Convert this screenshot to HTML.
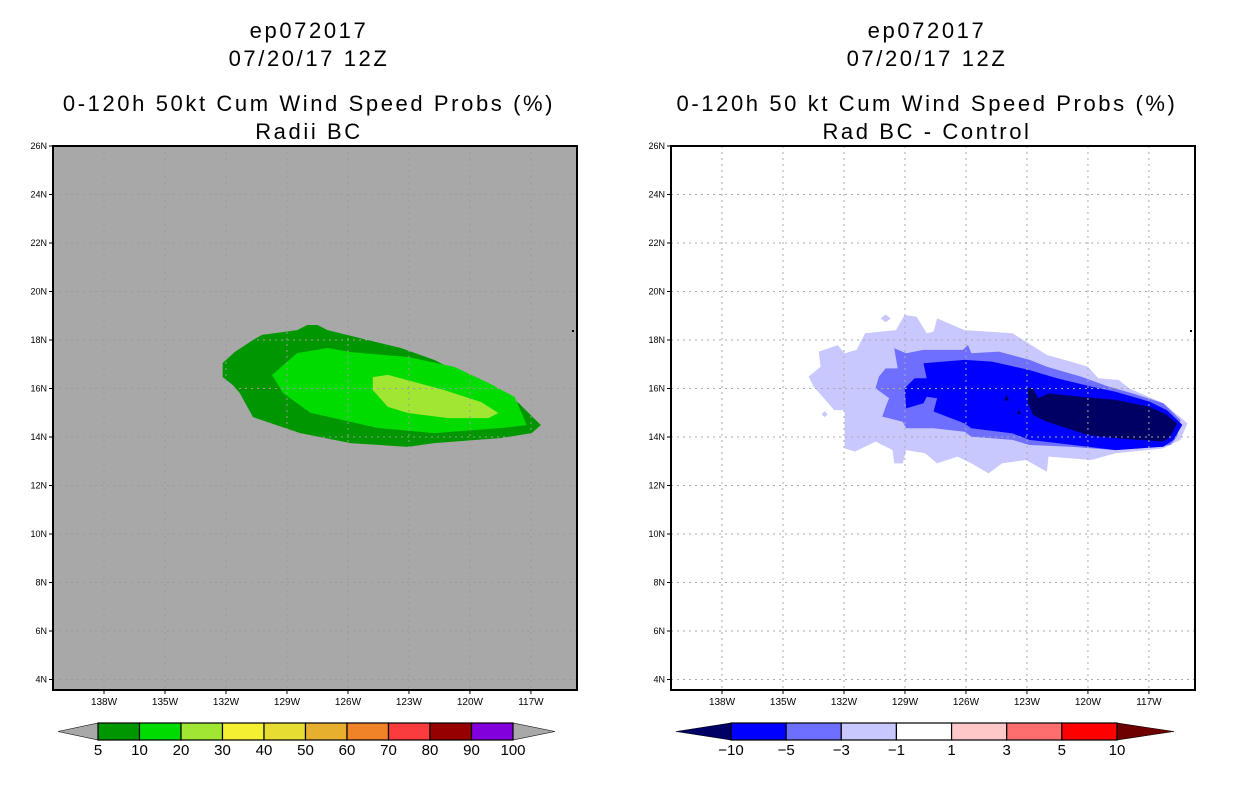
<!DOCTYPE html>
<html><head><meta charset="utf-8">
<style>
html,body{margin:0;padding:0;background:#fff;}
svg{display:block;font-family:"Liberation Sans",sans-serif;}
</style></head>
<body>
<svg id="fig" width="1236" height="800" viewBox="0 0 1236 800" xmlns="http://www.w3.org/2000/svg">
<g id="left"></g>
<g id="right"></g>
</svg>
<script>
// ---- axis data ----
const lonTicks = [138,135,132,129,126,123,120,117];
const latTicks = [26,24,22,20,18,16,14,12,10,8,6,4];
// ---- left panel contours (lon W, lat N) ----
const probDark = [[132.16,17.05],[131.56,17.51],[130.67,18.0],[130.23,18.21],[128.5,18.41],[128.0,18.62],[127.5,18.62],[127.0,18.41],[125.03,18.0],[123.4,17.67],[121.76,17.18],[120.57,16.68],[119.93,16.47],[118.79,16.06],[117.6,15.4],[116.51,14.49],[116.96,14.16],[118.45,13.96],[121.76,13.75],[123.05,13.59],[125.87,13.75],[128.35,14.16],[130.67,14.82],[131.32,15.81],[131.66,16.14],[132.16,16.47]];
const probMid = [[129.73,16.56],[128.5,17.46],[127.0,17.67],[125.87,17.5],[123.05,17.3],[120.77,16.89],[119.09,16.23],[117.8,15.65],[117.21,14.49],[118.45,14.37],[121.76,14.16],[124.53,14.37],[127.85,15.0],[129.19,15.81]];
const probLight = [[124.78,16.47],[124.04,16.56],[121.27,15.94],[119.44,15.44],[118.6,14.99],[119.09,14.78],[121.07,14.78],[123.05,14.99],[124.04,15.24],[124.78,15.94]];
// ---- right panel difference contours ----
const diffM1 = [[133.74,16.49],[133.15,16.90],[133.24,17.52],[132.31,17.79],[131.97,17.45],[131.38,17.59],[130.96,18.28],[129.44,18.41],[129.02,19.03],[128.43,18.96],[127.93,18.28],[127.59,18.34],[127.42,18.89],[126.07,18.41],[123.71,18.28],[122.02,17.38],[120.84,17.11],[120.0,16.90],[119.49,16.42],[118.48,16.35],[117.98,16.01],[116.29,15.39],[115.11,14.56],[115.45,13.88],[116.29,13.53],[118.65,13.33],[119.83,13.05],[121.94,13.19],[122.02,12.57],[123.04,13.05],[124.22,12.91],[124.89,12.50],[125.73,12.91],[126.41,13.19],[127.42,12.91],[128.01,13.33],[128.94,13.46],[129.11,12.91],[129.53,12.91],[129.61,13.46],[130.45,13.81],[131.47,13.40],[131.97,13.53],[131.97,15.11],[132.48,15.11],[133.49,16.08]];
const diffM1IslandA = [[129.95,19.05],[129.7,18.89],[129.95,18.73],[130.2,18.89]];
const diffM1IslandB = [[132.95,15.06],[132.8,14.94],[132.95,14.82],[133.1,14.94]];
const diffM3 = [[130.45,16.01],[130.28,16.49],[129.95,16.83],[129.36,16.83],[129.53,17.66],[128.94,17.45],[128.09,17.59],[126.15,17.59],[125.90,17.79],[125.73,17.45],[124.38,17.52],[122.87,17.18],[122.02,16.90],[120.34,16.49],[118.99,16.08],[117.81,15.80],[116.29,15.39],[115.45,14.70],[115.62,14.01],[115.95,13.67],[118.65,13.46],[120.84,13.60],[122.87,13.67],[123.71,13.88],[125.73,14.01],[126.07,14.22],[127.59,14.36],[128.94,14.36],[129.11,14.63],[130.12,14.84],[129.95,15.25],[129.78,15.60]];
const diffM5 = [[129.02,16.01],[128.52,16.42],[127.93,16.42],[128.09,17.04],[126.07,17.18],[124.72,17.11],[122.87,16.76],[121.52,16.42],[119.83,16.08],[118.65,15.87],[116.97,15.46],[116.12,15.11],[115.36,14.50],[115.79,13.88],[116.29,13.60],[118.65,13.46],[120.0,13.60],[122.87,13.88],[123.71,14.15],[125.73,14.36],[126.07,14.56],[127.59,15.05],[127.42,15.60],[127.93,15.66],[128.09,15.39],[128.94,15.18]];
const diffM10 = [[122.95,16.01],[122.70,16.01],[122.45,15.60],[121.94,15.80],[120.34,15.66],[118.65,15.53],[116.97,15.25],[116.12,14.91],[115.62,14.56],[115.95,14.01],[116.29,13.81],[118.65,13.95],[120.0,14.08],[122.02,14.63],[122.70,14.91],[122.95,15.39]];
const diffM10SpeckA = [[124.0,15.75],[123.88,15.5],[124.12,15.5]];
const diffM10SpeckB = [[123.4,15.12],[123.3,14.95],[123.5,14.95]];
// ---- colorbars ----
const probLevels = ["5","10","20","30","40","50","60","70","80","90","100"];
const probColors = ["#009600","#00dc00","#a0e632","#f5f032","#e6dc32","#e6af2d","#f08228","#fa3c3c","#960000","#8200dc"];
const diffLevels = ["\u221210","\u22125","\u22123","\u22121","1","3","5","10"];
const diffColors = ["#0000ff","#6e6eff","#c8c8ff","#ffffff","#ffc8c8","#ff6e6e","#ff0000"];
const diffEnds = ["#000064","#6e0000"];

const NS="http://www.w3.org/2000/svg";
function mk(parent,tag,attrs,text){const e=document.createElementNS(NS,tag);for(const k in attrs)e.setAttribute(k,attrs[k]);if(text!==undefined)e.textContent=text;parent.appendChild(e);return e;}

const PT=146, PB=690, PW=524;
function panel(g,x0,bg,titles,cfg){
  const xs=lon=>x0+51+(138-lon)*20.33;
  const ys=lat=>PT+(26-lat)*24.25;
  const cx=x0+256;
  const tY=[38,66,111,139];
  titles.forEach((t,i)=>{
    const e=mk(g,'text',{x:cx,y:tY[i],'text-anchor':'middle','font-size':'22','fill':'#000','letter-spacing':'2.6'},t);
    
    
  });
  const clipId='clip'+x0;
  const cp=mk(g,'clipPath',{id:clipId});mk(cp,'rect',{x:x0,y:PT,width:PW,height:PB-PT});
  const bgR=mk(g,'rect',{x:x0,y:PT,width:PW,height:PB-PT,fill:bg});
  
  
  const cg=mk(g,'g',{'clip-path':'url(#'+clipId+')'});
  cfg.polys.forEach(p=>{
    const pts=p.data.map(d=>xs(d[0]).toFixed(1)+','+ys(d[1]).toFixed(1)).join(' ');
    const e=mk(cg,'polygon',{points:pts,fill:p.color});
    
    
  });
  lonTicks.forEach(l=>{
    const e=mk(cg,'line',{x1:xs(l),x2:xs(l),y1:PT,y2:PB,stroke:cfg.grid,'stroke-width':1,'stroke-dasharray':'2,4'});
    
    
  });
  latTicks.forEach(l=>{
    const e=mk(cg,'line',{x1:x0,x2:x0+PW,y1:ys(l),y2:ys(l),stroke:cfg.grid,'stroke-width':1,'stroke-dasharray':'2,4'});
    
    
  });
  mk(cg,'rect',{x:x0+519,y:330,width:2,height:2,fill:'#000'});
  const fr=mk(g,'rect',{x:x0,y:PT,width:PW,height:PB-PT,fill:'none',stroke:'#000','stroke-width':2});
  
  
  latTicks.forEach(l=>{
    mk(g,'line',{x1:x0-4,x2:x0,y1:ys(l),y2:ys(l),stroke:'#000'});
    const e=mk(g,'text',{x:x0-6,y:ys(l)+3,'text-anchor':'end','font-size':'9'},l+'N');
    
    
  });
  lonTicks.forEach(l=>{
    mk(g,'line',{x1:xs(l),x2:xs(l),y1:PB,y2:PB+4,stroke:'#000'});
    const e=mk(g,'text',{x:xs(l),y:PB+15,'text-anchor':'middle','font-size':'10'},l+'W');
    
    
  });
  const cb=cfg.cb; const y1=723,y2=740,ym=731.5;
  const n=cb.colors.length; const bw=(cb.b1-cb.b0)/n;
  const tl=mk(g,'polygon',{points:`${cb.t0},${ym} ${cb.b0},${y1} ${cb.b0},${y2}`,fill:cb.ends[0],stroke:'#000','stroke-width':0.6});
  
  
  const tr=mk(g,'polygon',{points:`${cb.t1},${ym} ${cb.b1},${y1} ${cb.b1},${y2}`,fill:cb.ends[1],stroke:'#000','stroke-width':0.6});
  
  
  cb.colors.forEach((c,i)=>{
    const e=mk(g,'rect',{x:cb.b0+i*bw,y:y1,width:bw,height:y2-y1,fill:c,stroke:'#000','stroke-width':1.2});
    
    
  });
  cb.levels.forEach((t,i)=>{
    const e=mk(g,'text',{x:cb.b0+i*bw,y:755,'text-anchor':'middle','font-size':'15'},t);
    
    
  });
}
panel(document.getElementById('left'),53,'#a8a8a8',["ep072017","07/20/17 12Z","0-120h 50kt Cum Wind Speed Probs (%)","Radii BC"],{
  grid:'#9c9c9c',
  polys:[{data:probDark,color:probColors[0],name:'prob-5-10'},{data:probMid,color:probColors[1],name:'prob-10-20'},{data:probLight,color:probColors[2],name:'prob-20-30'}],
  cb:{t0:58,t1:555,b0:98,b1:513,colors:probColors,levels:probLevels,ends:['#a8a8a8','#a8a8a8']}
});
panel(document.getElementById('right'),671,'#ffffff',["ep072017","07/20/17 12Z","0-120h 50 kt Cum Wind Speed Probs (%)","Rad BC - Control"],{
  grid:'#aaaaaa',
  polys:[{data:diffM1,color:diffColors[2],name:'diff-neg1-neg3'},{data:diffM1IslandA,color:diffColors[2],name:'diff-neg1-island'},{data:diffM1IslandB,color:diffColors[2],name:'diff-neg1-island'},
         {data:diffM3,color:diffColors[1],name:'diff-neg3-neg5'},{data:diffM5,color:diffColors[0],name:'diff-neg5-neg10'},
         {data:diffM10,color:diffEnds[0],name:'diff-below-neg10'},{data:diffM10SpeckA,color:diffEnds[0],name:'diff-below-neg10-speck'},{data:diffM10SpeckB,color:diffEnds[0],name:'diff-below-neg10-speck'}],
  cb:{t0:676,t1:1174,b0:731,b1:1117,colors:diffColors,levels:diffLevels,ends:diffEnds}
});
</script>
</body></html>
